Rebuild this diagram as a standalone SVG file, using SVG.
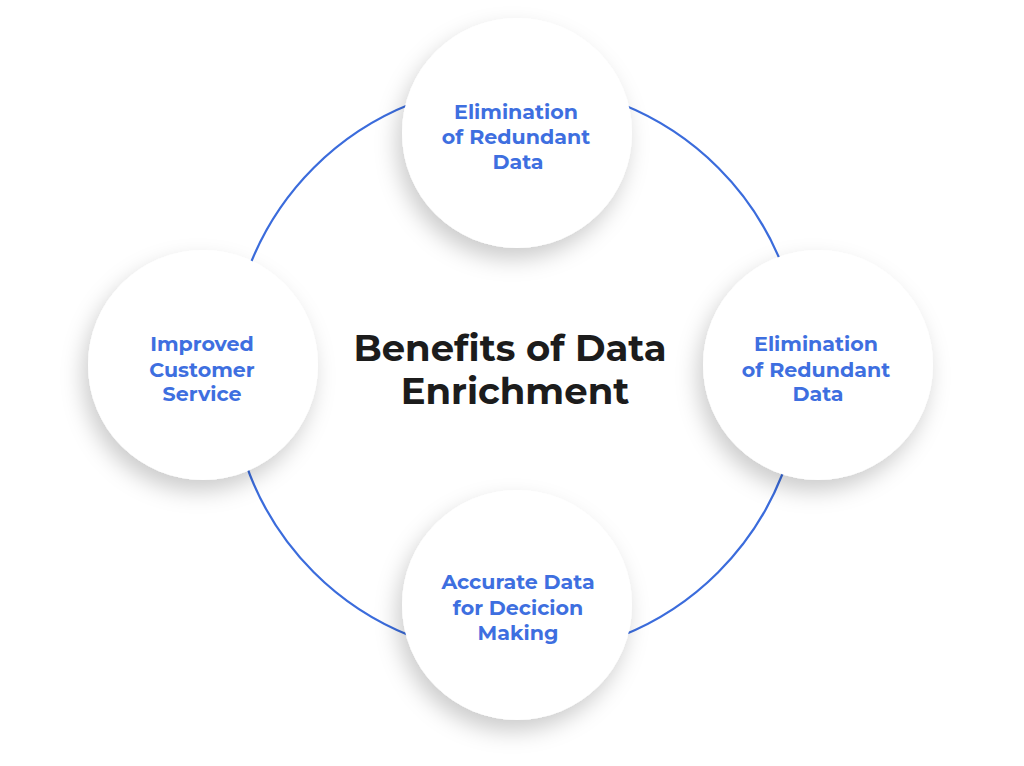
<svg xmlns="http://www.w3.org/2000/svg" width="1024" height="766" viewBox="0 0 1024 766">
<defs>
<style>
.node{fill:#ffffff;filter:url(#sh);}
.lbl{font-family:"Montserrat","Open Sans","Liberation Sans",sans-serif;font-weight:700;font-size:20.6px;fill:#3e6fe0;text-anchor:middle;}
.title{font-family:"Montserrat","Open Sans","Liberation Sans",sans-serif;font-weight:700;font-size:37px;fill:#1c1c1c;text-anchor:middle;}
.ring{fill:none;stroke:#3b6cdc;stroke-width:2.2;}
</style>
<filter id="sh" x="-30%" y="-30%" width="160%" height="170%">
<feDropShadow dx="-5" dy="11" stdDeviation="11" flood-color="#000000" flood-opacity="0.2"/>
</filter>
</defs>
<rect width="1024" height="766" fill="#ffffff"/>
<g id="connectors">
<circle class="ring" cx="516" cy="370" r="286"/>
</g>
<g id="center">
<text class="title" x="510" y="361">Benefits of Data</text>
<text class="title" x="515" y="404">Enrichment</text>
</g>
<g id="node-top">
<circle class="node" cx="517" cy="133" r="115"/>
<text class="lbl" x="516" y="119">Elimination</text>
<text class="lbl" x="516" y="144">of Redundant</text>
<text class="lbl" x="518" y="169">Data</text>
</g>
<g id="node-left">
<circle class="node" cx="203" cy="365" r="115"/>
<text class="lbl" x="202" y="351">Improved</text>
<text class="lbl" x="202" y="377">Customer</text>
<text class="lbl" x="202" y="401">Service</text>
</g>
<g id="node-right">
<circle class="node" cx="818" cy="365" r="115"/>
<text class="lbl" x="816" y="351">Elimination</text>
<text class="lbl" x="816" y="377">of Redundant</text>
<text class="lbl" x="818" y="401">Data</text>
</g>
<g id="node-bottom">
<circle class="node" cx="517" cy="605" r="115"/>
<text class="lbl" x="518" y="589">Accurate Data</text>
<text class="lbl" x="518" y="615">for Decicion</text>
<text class="lbl" x="518" y="640">Making</text>
</g>
</svg>
